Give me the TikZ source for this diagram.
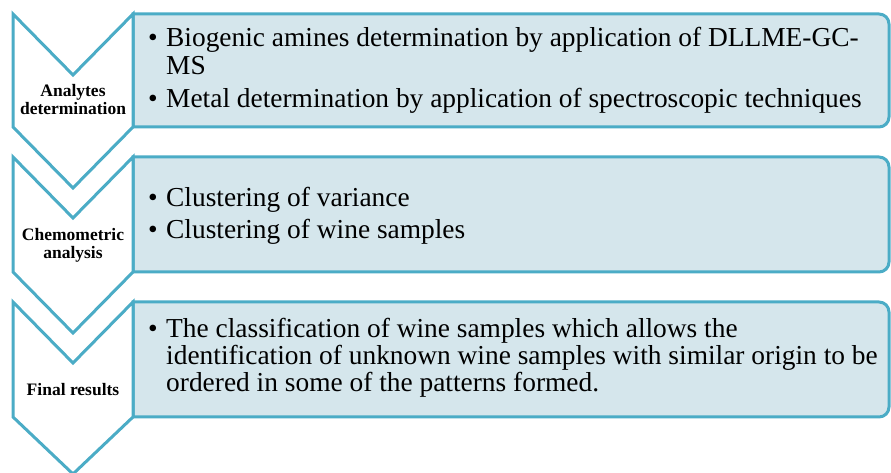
\documentclass[tikz,border=0pt]{standalone}
\usepackage{fontspec}
\setmainfont{Liberation Serif}
\definecolor{teal}{RGB}{75,172,198}
\definecolor{boxfill}{RGB}{213,230,236}
\tikzset{
  chev/.style={draw=teal, fill=white, line width=3pt, line join=miter},
  panel/.style={draw=teal, fill=boxfill, line width=3pt},
  item/.style={anchor=base west, inner sep=0pt, font=\fontsize{27.4}{30}\selectfont},
  bul/.style={anchor=base, inner sep=0pt, font=\fontsize{27.4}{30}\selectfont},
  lab/.style={inner sep=0pt, align=center, font=\bfseries\fontsize{17.5}{20}\selectfont},
}
\newcommand\panelpath[2]{(133,#1) -- (879,#1) arc[start angle=90,end angle=0,radius=10] -- (889,#2+10) arc[start angle=0,end angle=-90,radius=10] -- (133,#2) -- cycle}
\newcommand\chevpath[4]{(13,#1) -- (73,#2) -- (133,#1) -- (133,#3) -- (73,#4) -- (13,#3) -- cycle}
\begin{document}
\begin{tikzpicture}[x=1pt,y=1pt]
\useasboundingbox (0,0) rectangle (891,473);
% panels
\path[panel] \panelpath{459}{346};
\path[panel] \panelpath{316}{201};
\path[panel] \panelpath{171}{56};
% chevrons
\path[chev] \chevpath{459}{398}{346}{285};
\path[chev] \chevpath{316}{255}{201}{140};
\path[chev] \chevpath{171}{110}{56}{-1};
% labels
\node[lab, anchor=base] (l1a) at (73,376) {Analytes};
\node[lab, anchor=base] (l1b) at (73,358) {determination};
\node[lab, anchor=base] (l2a) at (73,232) {Chemometric};
\node[lab, anchor=base] (l2b) at (73,214) {analysis};
\node[lab, anchor=base] (l3) at (73,77) {Final results};
% box 1
\node[bul] (b1) at (153,426) {•};
\node[item] (t1a) at (166,426) {Biogenic amines determination by application of DLLME-GC-};
\node[item] (t1b) at (166,398) {MS};
\node[bul] (b2) at (153,365) {•};
\node[item] (t2) at (166,365) {Metal determination by application of spectroscopic techniques};
% box 2
\node[bul] (b3) at (153,266) {•};
\node[item] (t3) at (166,266) {Clustering of variance};
\node[bul] (b4) at (153,234) {•};
\node[item] (t4) at (166,234) {Clustering of wine samples};
% box 3
\node[bul] (b5) at (153,135) {•};
\node[item] (t5a) at (166,135) {The classification of wine samples which allows the};
\node[item] (t5b) at (166,108) {identification of unknown wine samples with similar origin to be};
\node[item] (t5c) at (166,81) {ordered in some of the patterns formed.};
\end{tikzpicture}
\end{document}
